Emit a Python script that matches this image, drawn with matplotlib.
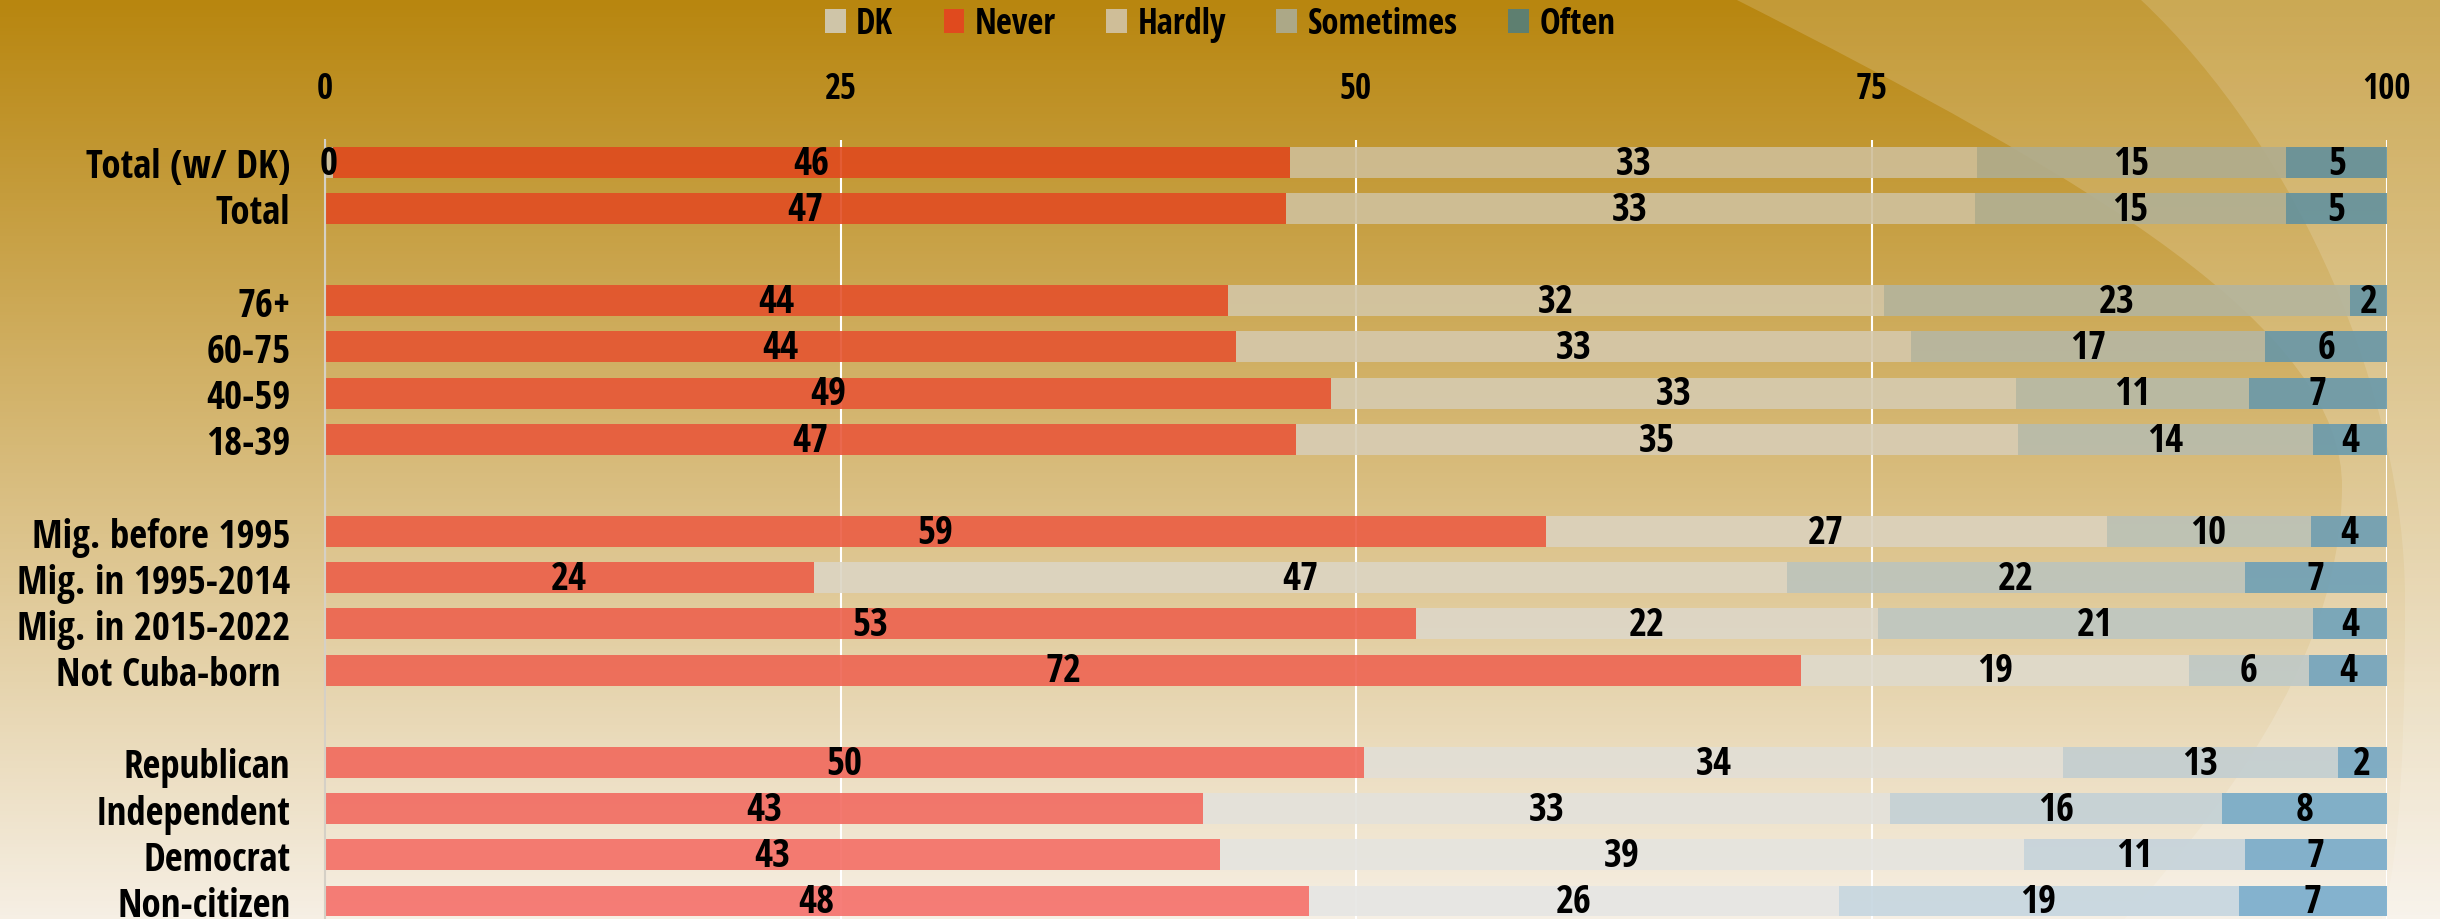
import numpy as np
import matplotlib
matplotlib.use("Agg")
import matplotlib.pyplot as plt
from matplotlib.patches import Patch, PathPatch
from matplotlib.path import Path
from matplotlib.colors import to_rgb

nan = np.nan

# data (percent)
categories = ['Total (w/ DK)', 'Total', '',
              '76+', '60-75', '40-59', '18-39', '',
              'Mig. before 1995', 'Mig. in 1995-2014', 'Mig. in 2015-2022', 'Not Cuba-born ', '',
              'Republican', 'Independent', 'Democrat', 'Non-citizen']
series = ['DK', 'Never', 'Hardly', 'Sometimes', 'Often']

dk        = [0.4, nan, nan, nan, nan, nan, nan, nan, nan, nan, nan, nan, nan, nan, nan, nan, nan]
never     = [46.4, 46.6, nan, 43.8, 44.2, 48.8, 47.1, nan, 59.2, 23.7, 52.9, 71.6, nan, 50.4, 42.6, 43.4, 47.7]
hardly    = [33.3, 33.4, nan, 31.8, 32.7, 33.2, 35.0, nan, 27.2, 47.2, 22.4, 18.8, nan, 33.9, 33.3, 39.0, 25.7]
sometimes = [15.0, 15.1, nan, 22.6, 17.2, 11.3, 14.3, nan, 9.9, 22.2, 21.1, 5.8, nan, 13.3, 16.1, 10.7, 19.4]
often     = [5.0, 4.9, nan, 1.8, 5.9, 6.7, 3.6, nan, 3.7, 6.9, 3.6, 3.8, nan, 2.4, 8.0, 6.9, 7.2]

# colours: legend swatch, bar colour at the top row, bar colour at the bottom row
legend_colors = ['#CFC5A8', '#E04A1E', '#CFBE98', '#ACA887', '#5E7F70']
top_colors    = ['#CFC5A8', '#E04A1E', '#CFBE98', '#B0AD8F', '#62909C']
bottom_colors = ['#E6E6E4', '#F5706A', '#E6E6E4', '#C6D6E0', '#78ACCC']

plt.rcParams['font.family'] = ['Open Sans Condensed', 'Asap Condensed', 'Barlow Semi Condensed', 'DejaVu Sans']
plt.rcParams['font.weight'] = 'bold'

W, H = 2440, 920
fig = plt.figure(figsize=(W / 100, H / 100), dpi=100)

# background: vertical gold -> cream gradient plus two soft highlight shapes on the right
bg = fig.add_axes([0, 0, 1, 1], zorder=-10)
top_bg = np.array(to_rgb('#B8860F'))
bot_bg = np.array(to_rgb('#F6EFE4'))
t = np.linspace(0, 1, 256)[:, None]
grad = (top_bg * (1 - t) + bot_bg * t)[:, None, :]
bg.imshow(grad, extent=(0, 1, 0, 1), aspect='auto', origin='upper')


def px(x, y):
    return (x / W, 1 - y / H)


def highlight(pts, alpha):
    codes = [Path.MOVETO] + [Path.CURVE4] * (len(pts) - 4) + [Path.LINETO, Path.LINETO, Path.CLOSEPOLY]
    verts = [px(*p) for p in pts]
    bg.add_patch(PathPatch(Path(verts, codes), facecolor='white', edgecolor='none', alpha=alpha))


highlight([(1735, 0), (2090, 180), (2345, 330), (2342, 490),
           (2340, 640), (2250, 780), (2120, 925),
           (2445, 925), (2445, 0), (1735, 0)], 0.17)
highlight([(2140, 0), (2300, 150), (2405, 400), (2405, 600),
           (2405, 800), (2395, 880), (2380, 925),
           (2445, 925), (2445, 0), (2140, 0)], 0.15)
bg.set_xlim(0, 1)
bg.set_ylim(0, 1)
bg.axis('off')

ax = fig.add_axes([325 / W, 0, 2062 / W, (H - 141) / H])
ax.patch.set_alpha(0)

rows = np.arange(len(categories))
n = len(categories) - 1
data = [dk, never, hardly, sometimes, often]
left = np.zeros(len(categories))
for vals, c0, c1 in zip(data, top_colors, bottom_colors):
    vals = np.array(vals, dtype=float)
    c0, c1 = np.array(to_rgb(c0)), np.array(to_rgb(c1))
    for i in rows:
        if np.isnan(vals[i]):
            continue
        col = c0 + (c1 - c0) * i / n
        ax.barh(i, vals[i], left=left[i], height=0.67, color=col, alpha=0.9,
                edgecolor='none', zorder=2)
        ax.text(left[i] + vals[i] / 2, i + 0.03, f"{vals[i]:.0f}", ha='center', va='center',
                fontsize=28, fontweight='bold', zorder=4)
        left[i] += vals[i]

ax.set_xlim(0, 100)
ax.set_ylim(16.39, -0.48)
ax.xaxis.tick_top()
ax.set_xticks([0, 25, 50, 75, 100])
ax.tick_params(axis='x', length=0, pad=24, labelsize=25)
ax.set_yticks(rows, categories)
ax.tick_params(axis='y', length=0, pad=25, labelsize=28)
ax.grid(axis='x', color='white', lw=1.5, zorder=1)
ax.set_axisbelow(True)
for s in ['top', 'right', 'bottom']:
    ax.spines[s].set_visible(False)
ax.spines['left'].set_color('#D5D0C6')
ax.spines['left'].set_linewidth(1.5)

handles = [Patch(facecolor=c, edgecolor='none', label=s) for s, c in zip(series, legend_colors)]
fig.legend(handles=handles, loc='center', bbox_to_anchor=(0.5, 1 - 25 / H), ncol=5,
           frameon=False, fontsize=25, handlelength=0.6, handleheight=0.7,
           handletextpad=0.3, columnspacing=1.45)

fig.savefig('out.png', dpi=100)
